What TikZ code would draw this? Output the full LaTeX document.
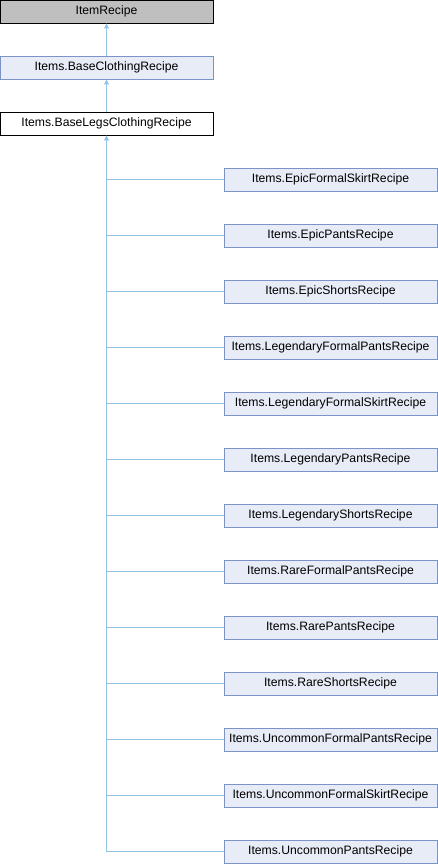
\documentclass[tikz,border=0pt]{standalone}
\usepackage{fontspec}
\setmainfont{Liberation Sans}
\usetikzlibrary{arrows.meta}
\definecolor{edgeblue}{HTML}{94C4E4}
\definecolor{nodefill}{HTML}{E8ECF6}
\definecolor{nodeline}{HTML}{7B93C9}
\definecolor{basefill}{HTML}{BFBFBF}
\begin{document}
\begin{tikzpicture}[x=1pt,y=-1pt,
  classbox/.style={draw=nodeline,fill=nodefill,line width=0.9pt,minimum width=213pt,minimum height=23pt,inner sep=0pt,font=\fontsize{12.2}{14}\selectfont},
  rootbox/.style={classbox,draw=black,fill=basefill},
  selfbox/.style={classbox,draw=black,fill=white},
  edge/.style={draw=edgeblue,line width=0.9pt},
  inherit/.style={edge,-{Triangle[length=5pt,width=5pt]}}]
\useasboundingbox (0,0) rectangle (438,864);
\node[rootbox] (root) at (106.5,11.5) {ItemRecipe};
\node[classbox] (base) at (106.5,67.5) {Items.BaseClothingRecipe};
\node[selfbox] (legs) at (106.5,123.5) {Items.BaseLegsClothingRecipe};
\draw[inherit] (base) -- (root);
\draw[inherit] (legs) -- (base);
\foreach \name [count=\i from 0] in {EpicFormalSkirtRecipe,EpicPantsRecipe,EpicShortsRecipe,LegendaryFormalPantsRecipe,LegendaryFormalSkirtRecipe,LegendaryPantsRecipe,LegendaryShortsRecipe,RareFormalPantsRecipe,RarePantsRecipe,RareShortsRecipe,UncommonFormalPantsRecipe,UncommonFormalSkirtRecipe,UncommonPantsRecipe}{
  \node[classbox] (c\i) at (330.5,179.5+56*\i) {Items.\name};
}
% shared trunk from the last subclass up to the base class
\draw[inherit] (c12.west) -| (legs.south);
\foreach \i in {0,...,11}{
  \draw[edge] (c\i.west) -- (c\i.west -| legs.south);
}
\end{tikzpicture}
\end{document}
